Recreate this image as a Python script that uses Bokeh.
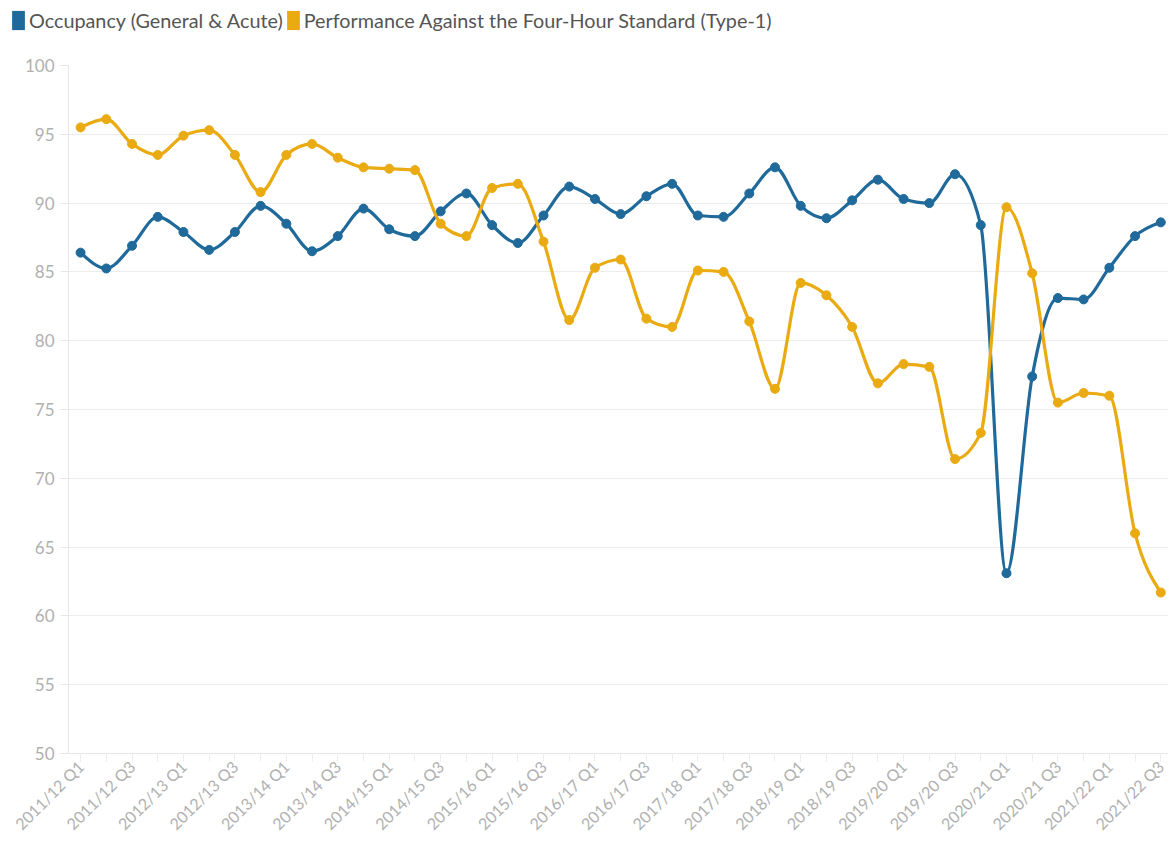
import numpy as np
from bokeh.plotting import figure
from bokeh.layouts import column
from bokeh.models import Legend, LegendItem, FixedTicker, ColumnDataSource
from bokeh.embed import file_html
from bokeh.resources import INLINE
from math import pi

years = ["2011/12", "2012/13", "2013/14", "2014/15", "2015/16", "2016/17",
         "2017/18", "2018/19", "2019/20", "2020/21", "2021/22"]
quarters = [f"{y} Q{q}" for y in years for q in (1, 2, 3, 4)][:43]

occupancy = [86.4, 85.25, 86.9, 89.0, 87.9, 86.6, 87.9, 89.8, 88.5, 86.5,
             87.6, 89.6, 88.1, 87.6, 89.4, 90.7, 88.4, 87.1, 89.1, 91.2,
             90.3, 89.2, 90.5, 91.4, 89.1, 89.0, 90.7, 92.6, 89.8, 88.9,
             90.2, 91.7, 90.3, 90.0, 92.1, 88.4, 63.1, 77.4, 83.1, 83.0,
             85.3, 87.6, 88.6]
four_hour = [95.5, 96.1, 94.3, 93.5, 94.9, 95.3, 93.5, 90.8, 93.5, 94.3,
             93.3, 92.6, 92.5, 92.4, 88.5, 87.6, 91.1, 91.4, 87.2, 81.5,
             85.3, 85.9, 81.6, 81.0, 85.1, 85.0, 81.4, 76.5, 84.2, 83.3,
             81.0, 76.9, 78.3, 78.1, 71.4, 73.3, 89.7, 84.9, 75.5, 76.2,
             76.0, 66.0, 61.7]

series_names = ["Occupancy (General & Acute)",
                "Performance Against the Four-Hour Standard (Type-1)"]
colors = ["#1F6A9A", "#EAAA12"]

FONT = "Lato"
W = 1172


def monotone_bezier(xs, ys):
    xs = np.asarray(xs, float)
    ys = np.asarray(ys, float)
    n = len(xs)
    h = np.diff(xs)
    s = np.diff(ys) / h
    t = np.zeros(n)
    for i in range(1, n - 1):
        h0, h1 = h[i - 1], h[i]
        s0, s1 = s[i - 1], s[i]
        p = (s0 * h1 + s1 * h0) / (h0 + h1)
        t[i] = (np.sign(s0) + np.sign(s1)) * min(abs(s0), abs(s1), 0.5 * abs(p))
    t[0] = (3 * s[0] - t[1]) / 2
    t[-1] = (3 * s[-1] - t[-2]) / 2
    d = h / 3
    return dict(x0=xs[:-1], y0=ys[:-1], x1=xs[1:], y1=ys[1:],
                cx0=xs[:-1] + d, cy0=ys[:-1] + d * t[:-1],
                cx1=xs[1:] - d, cy1=ys[1:] - d * t[1:])


x = np.arange(len(quarters))

# ---- legend strip ----
lg = figure(width=W, height=36, output_backend="svg", toolbar_location=None,
            x_range=(0, 1), y_range=(0, 1), min_border=0)
lg.axis.visible = False
lg.grid.grid_line_color = None
lg.outline_line_color = None
legend_x = -58
try:
    lg.frame_align = False
    legend_x = 10
except Exception:
    pass
items = []
for name, col in zip(series_names, colors):
    dummy = lg.quad(left=[np.nan], right=[np.nan], top=[np.nan],
                    bottom=[np.nan], fill_color=col, line_color=None)
    items.append(LegendItem(label=name, renderers=[dummy]))
legend = Legend(items=items, orientation="horizontal", location=(legend_x, 4),
                label_text_font=FONT, label_text_font_size="19.8px",
                label_text_color="#555555", glyph_width=16, glyph_height=24,
                spacing=2, padding=0, margin=0, border_line_color=None,
                background_fill_alpha=0, label_standoff=3)
lg.add_layout(legend, "center")

# ---- main chart ----
p = figure(width=W, height=806, output_backend="svg", toolbar_location=None,
           x_range=(-0.47, 42.3), y_range=(50, 100),
           min_border_left=68, min_border_right=4, min_border_top=29,
           min_border_bottom=60)
p.outline_line_color = None
p.background_fill_color = "white"

for vals, col in zip([occupancy, four_hour], colors):
    src = ColumnDataSource(monotone_bezier(x, vals))
    p.bezier(x0="x0", y0="y0", x1="x1", y1="y1", cx0="cx0", cy0="cy0",
             cx1="cx1", cy1="cy1", source=src, line_color=col, line_width=3.2)
    p.scatter(x, vals, size=9, color=col)

p.yaxis.ticker = FixedTicker(ticks=list(range(50, 101, 5)))
p.yaxis.axis_line_color = "#e6e6e6"
p.yaxis.major_tick_line_color = "#e6e6e6"
p.yaxis.major_tick_out = 8
p.yaxis.major_tick_in = 0
p.yaxis.minor_tick_line_color = None
p.yaxis.major_label_text_color = "#b0b0b0"
p.yaxis.major_label_text_font = FONT
p.yaxis.major_label_text_font_size = "17px"
p.yaxis.major_label_standoff = 6

p.xaxis.ticker = FixedTicker(ticks=list(x))
p.xaxis.major_label_overrides = {int(i): (q if i % 2 == 0 else "")
                                 for i, q in zip(x, quarters)}
p.xaxis.major_label_orientation = pi / 4
p.xaxis.axis_line_color = "#e6e6e6"
p.xaxis.major_tick_line_color = "#ececec"
p.xaxis.major_tick_out = 8
p.xaxis.major_tick_in = 0
p.xaxis.minor_tick_line_color = None
p.xaxis.major_label_text_color = "#b0b0b0"
p.xaxis.major_label_text_font = FONT
p.xaxis.major_label_text_font_size = "16px"
p.xaxis.major_label_standoff = 2

p.xgrid.grid_line_color = None
p.ygrid.grid_line_color = "#ececec"
p.ygrid.grid_line_width = 1

layout = column(lg, p, spacing=0)
open("out.html", "w").write(file_html(layout, INLINE))
